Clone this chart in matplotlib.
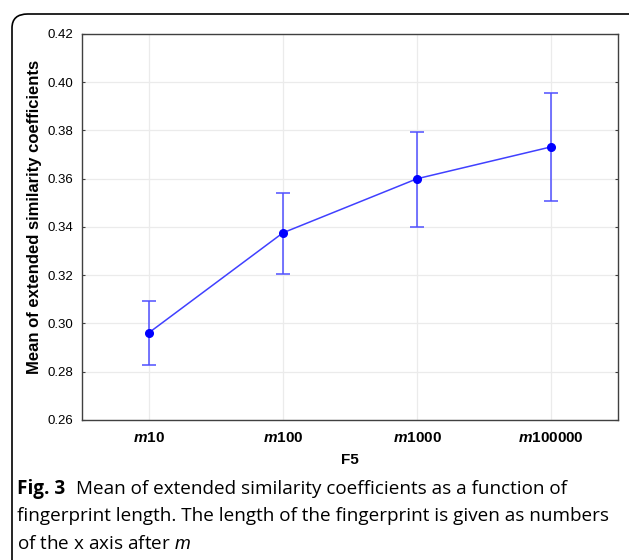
import matplotlib
matplotlib.use("Agg")
import matplotlib.pyplot as plt
from matplotlib.patches import FancyBboxPatch

# data
categories = ["m10", "m100", "m1000", "m100000"]
means = [0.2962, 0.3376, 0.3600, 0.3732]
upper = [0.3094, 0.3543, 0.3795, 0.3956]
lower = [0.2829, 0.3207, 0.3401, 0.3509]
yticks = [0.26, 0.28, 0.30, 0.32, 0.34, 0.36, 0.38, 0.40, 0.42]

plt.rcParams['mathtext.fontset'] = 'custom'
plt.rcParams['mathtext.bfit'] = 'Liberation Sans:italic:bold'
plt.rcParams['mathtext.bf'] = 'Liberation Sans:bold'
plt.rcParams['mathtext.it'] = 'Liberation Sans:italic'

fig = plt.figure(figsize=(6.29, 5.6), dpi=100)
ax = fig.add_axes([82/629, 1-420/560, (618-82)/629, (420-34)/560])

x = list(range(len(categories)))
err_lo = [m - l for m, l in zip(means, lower)]
err_hi = [u - m for m, u in zip(means, upper)]
ax.errorbar(x, means, yerr=[err_lo, err_hi], fmt='none', ecolor='#5050ff',
            elinewidth=1.1, capsize=5, capthick=1.1, zorder=2)
ax.plot(x, means, color='#4040ff', lw=1.1, zorder=3)
ax.plot(x, means, 'o', color='#0000ff', ms=5.5, zorder=4)

ax.set_xlim(-0.5, 3.5)
ax.set_ylim(0.26, 0.42)
ax.set_yticks(yticks)
ax.set_yticklabels([f"{v:.2f}" for v in yticks], fontfamily='Liberation Sans', fontsize=9.5)
ax.set_xticks(x)
ax.set_xticklabels([r"$\mathbfit{m}$" + c[1:] for c in categories],
                   fontfamily='Liberation Sans', fontweight='bold', fontsize=11)
ax.tick_params(axis='both', length=0, pad=6)
ax.tick_params(axis='x', pad=8)
ax.tick_params(axis='y', right=True, direction='in', length=2, color='#404040')
ax.grid(True, color='#ebebeb', lw=0.9)
ax.set_axisbelow(True)
for s in ax.spines.values():
    s.set_color('#404040')
    s.set_linewidth(1.0)

ax.set_xlabel("F5", fontfamily='Liberation Sans', fontweight='bold', fontsize=11, labelpad=6)
ax.set_ylabel("Mean of extended similarity coefficients", fontfamily='Liberation Sans',
              fontweight='bold', fontsize=12)
ax.yaxis.set_label_coords(-0.075, 0.525)

# rounded frame around figure + caption
box = FancyBboxPatch((12/629, -0.2), 1.2, 1 - 14/560 + 0.2,
                     boxstyle="round,pad=0,rounding_size=0.025",
                     transform=fig.transFigure, fill=False, ec='black', lw=1.2,
                     clip_on=False)
fig.patches.append(box)

cap_font = 'Open Sans'
cap_size = 13.6
fig.text(17/629, 1-489/560, "Fig. 3", fontfamily=cap_font, fontweight='bold',
         fontsize=cap_size, va='center', ha='left')
fig.text(76/629, 1-489/560, "Mean of extended similarity coefficients as a function of",
         fontfamily=cap_font, fontsize=cap_size, va='center', ha='left')
fig.text(17/629, 1-516/560, "fingerprint length. The length of the fingerprint is given as numbers",
         fontfamily=cap_font, fontsize=cap_size, va='center', ha='left')
fig.text(17/629, 1-544/560, "of the x axis after $\\mathit{m}$",
         fontfamily=cap_font, fontsize=cap_size, va='center', ha='left')

fig.savefig("out.png", dpi=100)
